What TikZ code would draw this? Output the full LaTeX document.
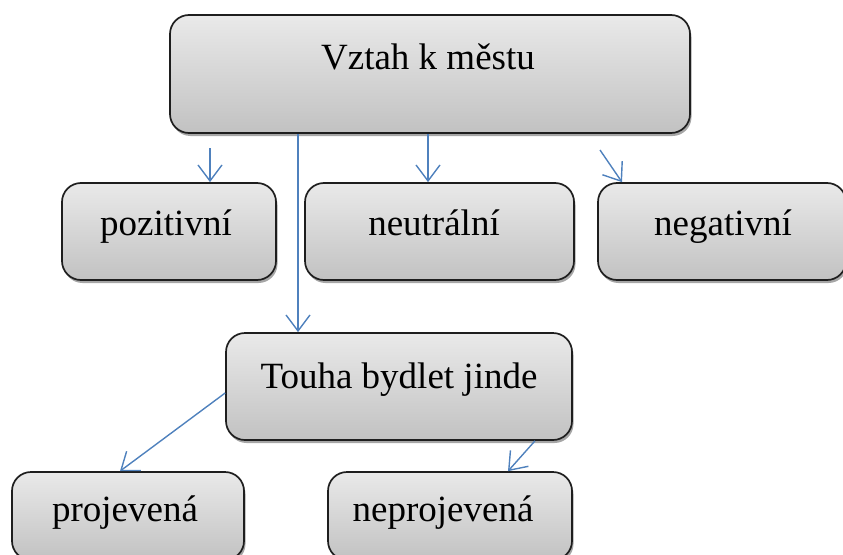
\documentclass[tikz,border=0pt]{standalone}
\usepackage{fontspec}
\setmainfont{Liberation Serif}
\usetikzlibrary{arrows.meta,shadows}
\definecolor{arrblue}{RGB}{79,129,189}
\definecolor{boxline}{RGB}{30,30,30}
\begin{document}
\begin{tikzpicture}[x=1pt,y=-1pt,
  box/.style={draw=boxline,line width=1.7pt,rounded corners=19pt,
    top color=gray!17,bottom color=gray!48,
    drop shadow={shadow xshift=1.5pt,shadow yshift=-3pt,opacity=0.35,fill=black},
    minimum width=#1,inner sep=0pt},
  lbl/.style={anchor=base,font=\fontsize{37}{40}\selectfont,inner sep=0pt},
  arr/.style={draw=arrblue,line width=1.4pt,-{Straight Barb[length=16pt,width=24pt,line width=1.4pt]}}]
\useasboundingbox (0,0) rectangle (843,554);
\node[box=520pt,minimum height=118pt] (top) at (430,74) {};
\node[box=214pt,minimum height=97pt] (pos) at (169,231.5) {};
\node[box=269pt,minimum height=97pt] (neu) at (439.5,231.5) {};
\node[box=248pt,minimum height=97pt] (neg) at (722,231.5) {};
\node[box=346pt,minimum height=107pt] (tou) at (399,386.5) {};
\node[box=232pt,minimum height=88pt] (proj) at (128,516) {};
\node[box=244pt,minimum height=88pt] (nepr) at (450,516) {};
\node[lbl] (topT) at (428,69) {Vztah k městu};
\node[lbl] (posT) at (166,235) {pozitivní};
\node[lbl] (neuT) at (434,235) {neutrální};
\node[lbl] (negT) at (723,235) {negativní};
\node[lbl] (touT) at (399,388) {Touha bydlet jinde};
\node[lbl] (projT) at (125,521) {projevená};
\node[lbl] (neprT) at (443,521) {neprojevená};
\coordinate (c1) at (210,148);
\coordinate (c2) at (428,0);
\coordinate (c3s) at (600,150);
\coordinate (c3e) at (622,0);
\coordinate (c4) at (298,0);
\coordinate (c5s) at (0,393);
\coordinate (c5e) at (120,0);
\coordinate (c6s) at (535,0);
\coordinate (c6e) at (508,0);
\draw[arr] (c1) -- (c1 |- pos.north);
\draw[arr] (c2 |- top.south) -- (c2 |- neu.north);
\draw[arr] (c3s) -- (c3e |- neg.north);
\draw[arr] (c4 |- top.south) -- (c4 |- tou.north);
\draw[arr] (tou.west |- c5s) -- (c5e |- proj.north);
\draw[arr] (c6s |- tou.south) -- (c6e |- nepr.north);
\end{tikzpicture}
\end{document}
